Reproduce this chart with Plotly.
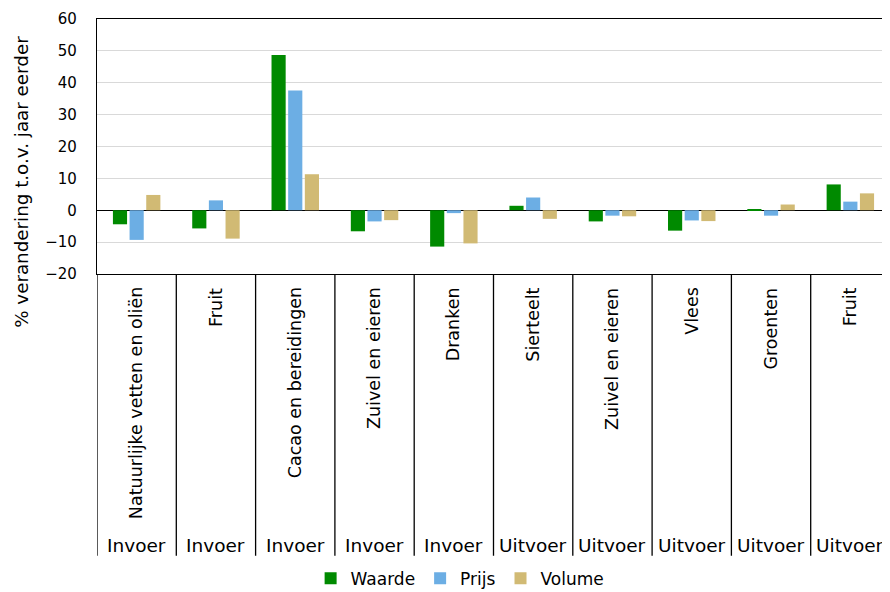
import plotly.graph_objects as go

# categories (inner label) and their group (outer label)
categories = ["Natuurlijke vetten en oliën", "Fruit", "Cacao en bereidingen", "Zuivel en eieren",
              "Dranken", "Sierteelt", "Zuivel en eieren", "Vlees", "Groenten", "Fruit"]
groups = ["Invoer", "Invoer", "Invoer", "Invoer", "Invoer",
          "Uitvoer", "Uitvoer", "Uitvoer", "Uitvoer", "Uitvoer"]

waarde = [-4.4, -5.7, 48.7, -6.6, -11.4, 1.4, -3.5, -6.4, 0.1, 8.1]
prijs = [-9.3, 3.1, 37.6, -3.5, -0.9, 4.0, -1.7, -3.2, -1.7, 2.7]
volume = [4.8, -8.9, 11.3, -3.1, -10.4, -2.7, -1.9, -3.4, 1.8, 5.3]

y_ticks = [-20, -10, 0, 10, 20, 30, 40, 50, 60]

label_font = "DejaVu Sans, Verdana, sans-serif"

xs = list(range(len(categories)))

fig = go.Figure()
series = [("Waarde", waarde, "#008A00"), ("Prijs", prijs, "#6CAEE4"), ("Volume", volume, "#D1BA74")]
for name, vals, color in series:
    fig.add_trace(go.Bar(x=xs, y=vals, name=name, marker=dict(color=color, line=dict(width=0))))

# category labels, group labels and divider lines below the plot
for i, (cat, grp) in enumerate(zip(categories, groups)):
    fig.add_annotation(x=i, y=-0.045, xref="x", yref="paper", text=cat, textangle=-90,
                       showarrow=False, yanchor="top", xanchor="center",
                       font=dict(family=label_font, size=17.5, color="#000"))
    fig.add_annotation(x=i, y=-1.065, xref="x", yref="paper", text=grp,
                       showarrow=False, yanchor="middle", xanchor="center",
                       font=dict(family=label_font, size=18.5, color="#000"))
for i in range(len(categories) + 1):
    fig.add_shape(type="line", xref="x", yref="paper", x0=i - 0.5, x1=i - 0.5, y0=0, y1=-1.105,
                  line=dict(color="#000", width=1.3))

fig.add_annotation(xref="x domain", yref="y domain", x=-0.095, y=0.36,
                   text="% verandering t.o.v. jaar eerder",
                   textangle=-90, showarrow=False, xanchor="center", yanchor="middle",
                   font=dict(family=label_font, size=18.3, color="#000"))

fig.update_layout(
    width=890, height=592,
    margin=dict(l=89, r=8, t=11, b=326, autoexpand=False),
    plot_bgcolor="white", paper_bgcolor="white",
    barmode="group", bargap=0.37, bargroupgap=0.15,
    showlegend=True,
    legend=dict(orientation="h", xref="container", yref="container", x=0.508, y=0.036,
                xanchor="center", yanchor="middle",
                font=dict(family=label_font, size=17, color="#000"),
                itemwidth=30, tracegroupgap=0),
    xaxis=dict(range=[-0.5, len(categories) - 0.5], showticklabels=False, ticks="",
               showgrid=False, showline=True, linecolor="#000", linewidth=1.3, mirror=True,
               zeroline=False),
    yaxis=dict(range=[-20, 60], tickvals=y_ticks, showgrid=True, gridcolor="#D9D9D9",
               gridwidth=1.3, zeroline=True, zerolinecolor="#000", zerolinewidth=1.3,
               showline=True, linecolor="#000", linewidth=1.3, mirror=True,
               ticks="", ticklabelstandoff=16,
               tickfont=dict(family=label_font, size=15, color="#000")),
)

fig.write_html("out.html")
